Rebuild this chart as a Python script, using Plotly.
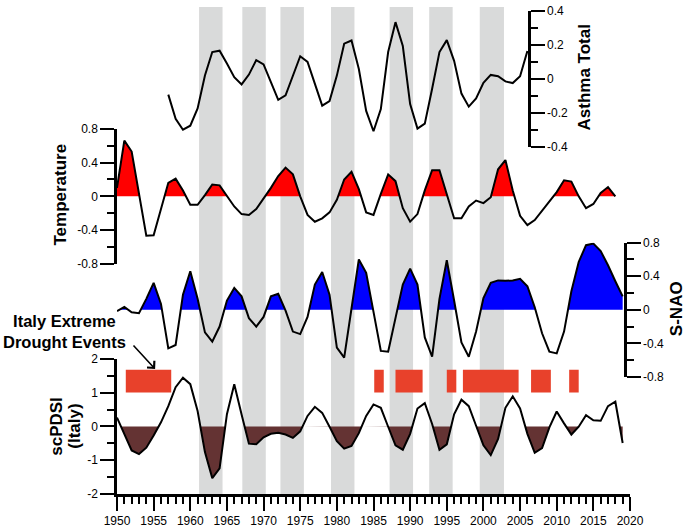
import plotly.graph_objects as go

# ---------------- data ----------------
years_temp = list(range(1950, 2019))
temperature = [0.10, 0.66, 0.53, 0.03, -0.465, -0.46, -0.15, 0.16, 0.21, 0.07,
               -0.10, -0.10, 0.015, 0.14, 0.13, 0.01, -0.12, -0.21, -0.22, -0.15,
               -0.03, 0.10, 0.24, 0.34, 0.26, 0.00, -0.22, -0.30, -0.26, -0.19,
               -0.04, 0.20, 0.29, 0.085, -0.19, -0.22, 0.03, 0.26, 0.18, -0.14,
               -0.30, -0.21, 0.07, 0.31, 0.31, 0.03, -0.26, -0.26, -0.12, -0.05,
               -0.08, -0.01, 0.32, 0.43, 0.07, -0.23, -0.34, -0.28, -0.17, -0.06,
               0.05, 0.19, 0.175, 0.00, -0.14, -0.09, 0.04, 0.11, 0.00]

years_nao = list(range(1950, 2020))
snao = [-0.015, 0.035, -0.03, -0.04, 0.13, 0.32, 0.07, -0.46, -0.42, 0.18,
        0.46, 0.13, -0.27, -0.38, -0.20, 0.11, 0.26, 0.16, -0.10, -0.20,
        -0.085, 0.16, 0.19, -0.01, -0.26, -0.29, -0.085, 0.30, 0.45, 0.18,
        -0.45, -0.57, 0.015, 0.60, 0.44, -0.05, -0.49, -0.50, -0.085, 0.30,
        0.49, 0.30, -0.33, -0.56, 0.13, 0.59, 0.11, -0.39, -0.56, -0.26,
        0.14, 0.32, 0.35, 0.345, 0.35, 0.37, 0.28, 0.03, -0.28, -0.50,
        -0.52, -0.26, 0.22, 0.57, 0.77, 0.79, 0.70, 0.53, 0.34, 0.16]

years_pdsi = list(range(1950, 2020))
scpdsi = [0.26, -0.22, -0.71, -0.82, -0.63, -0.27, 0.12, 0.60, 1.16, 1.44,
          1.25, 0.455, -0.76, -1.53, -1.24, 0.36, 1.25, 0.35, -0.51, -0.53,
          -0.32, -0.22, -0.19, -0.24, -0.34, -0.145, 0.31, 0.58, 0.40, -0.01,
          -0.44, -0.66, -0.58, -0.20, 0.31, 0.65, 0.55, -0.01, -0.56, -0.69,
          -0.22, 0.53, 0.69, 0.07, -0.69, -0.53, 0.36, 0.79, 0.60, 0.02,
          -0.56, -0.85, -0.37, 0.55, 0.89, 0.53, -0.22, -0.78, -0.64, -0.03,
          0.44, 0.09, -0.24, -0.01, 0.33, 0.18, 0.165, 0.60, 0.73, -0.49]

years_asthma = list(range(1957, 2007))
asthma = [-0.093, -0.235, -0.30, -0.276, -0.174, 0.02, 0.158, 0.166, 0.09, 0.01,
          -0.033, 0.025, 0.11, 0.085, -0.02, -0.124, -0.097, 0.023, 0.133, 0.10,
          -0.029, -0.158, -0.131, 0.019, 0.207, 0.226, 0.058, -0.189, -0.309, -0.178,
          0.158, 0.334, 0.193, -0.149, -0.293, -0.264, -0.058, 0.158, 0.228, 0.106,
          -0.087, -0.164, -0.116, -0.023, 0.023, 0.015, -0.015, -0.025, 0.015, 0.164]

band_start = [1961.2, 1967.1, 1972.3, 1979.2, 1987.2, 1992.6, 1999.5]
band_end = [1964.4, 1970.3, 1975.5, 1982.4, 1990.4, 1995.8, 2002.8]

drought_start = [1951.2, 1985.1, 1988.0, 1995.0, 1997.2, 2006.5, 2011.7]
drought_end = [1957.4, 1986.4, 1991.7, 1996.3, 2004.8, 2009.2, 2013.0]
drought_low = 1.0
drought_high = 1.68

temp_ticks = [-0.8, -0.4, 0, 0.4, 0.8]
temp_minor = [-0.6, -0.2, 0.2, 0.6]
asthma_ticks = [-0.4, -0.2, 0, 0.2, 0.4]
asthma_minor = [-0.3, -0.1, 0.1, 0.3]
nao_ticks = [-0.8, -0.4, 0, 0.4, 0.8]
nao_minor = [-0.6, -0.2, 0.2, 0.6]
pdsi_ticks = [-2, -1, 0, 1, 2]
pdsi_minor = [-1.5, -0.5, 0.5, 1.5]


def label(v):
    return '%g' % v


def clipped(xs, ys, positive=True):
    ox, oy = [], []
    for i in range(len(xs)):
        if i > 0:
            a, b = ys[i - 1], ys[i]
            if (a > 0 > b) or (a < 0 < b):
                t = a / (a - b)
                ox.append(xs[i - 1] + t * (xs[i] - xs[i - 1]))
                oy.append(0.0)
        ox.append(xs[i])
        oy.append(max(ys[i], 0) if positive else min(ys[i], 0))
    return ox, oy


FONT = "Arial, Liberation Sans, sans-serif"
fig = go.Figure()

# fills
tx, ty = clipped(years_temp, temperature, True)
fig.add_trace(go.Scatter(x=tx, y=ty, yaxis='y3', mode='lines', fill='tozeroy',
                         fillcolor='#FF0000', line=dict(width=0), hoverinfo='skip'))
nx, ny = clipped(years_nao, snao, True)
fig.add_trace(go.Scatter(x=nx, y=ny, yaxis='y4', mode='lines', fill='tozeroy',
                         fillcolor='#0000FF', line=dict(width=0), hoverinfo='skip'))
px_, py_ = clipped(years_pdsi, scpdsi, False)
fig.add_trace(go.Scatter(x=px_, y=py_, yaxis='y', mode='lines', fill='tozeroy',
                         fillcolor='#643333', line=dict(width=0), hoverinfo='skip'))

# lines
fig.add_trace(go.Scatter(x=years_temp, y=temperature, yaxis='y3', mode='lines',
                         line=dict(color='black', width=2)))
fig.add_trace(go.Scatter(x=years_nao, y=snao, yaxis='y4', mode='lines',
                         line=dict(color='black', width=2)))
fig.add_trace(go.Scatter(x=years_pdsi, y=scpdsi, yaxis='y', mode='lines',
                         line=dict(color='black', width=2)))
fig.add_trace(go.Scatter(x=years_asthma, y=asthma, yaxis='y2', mode='lines',
                         line=dict(color='black', width=2)))

shapes = []
for s, e in zip(band_start, band_end):
    shapes.append(dict(type='rect', xref='x', yref='paper', x0=s, x1=e, y0=0, y1=1,
                       fillcolor='#D9DADA', line=dict(width=0), layer='below'))
for s, e in zip(drought_start, drought_end):
    shapes.append(dict(type='rect', xref='x', yref='y', x0=s, x1=e,
                       y0=drought_low, y1=drought_high,
                       fillcolor='#E8412B', line=dict(width=0), layer='below'))


def yax(domain, rng, ticks, minor, side, anchor='x', position=None):
    d = dict(domain=domain, range=rng, tickmode='array', tickvals=ticks,
             ticktext=[label(v) for v in ticks], ticks='outside', ticklen=14,
             tickwidth=2, tickcolor='black', showline=True, linewidth=2.5,
             linecolor='black', showgrid=False, zeroline=False, side=side,
             anchor=anchor, tickfont=dict(family=FONT, size=12, color='black'),
             minor=dict(tickmode='array', tickvals=minor, ticks='outside',
                        ticklen=7, tickwidth=2, tickcolor='black', showgrid=False),
             fixedrange=True)
    if position is not None:
        d['position'] = position
    return d


ann_font = dict(family=FONT, size=17, color='black', weight='bold')
small_font = dict(family=FONT, size=16.5, color='black', weight='bold')
annotations = [
    dict(text='Temperature', xref='paper', yref='paper', x=-0.111, y=0.615,
         textangle=-90, showarrow=False, font=ann_font, xanchor='center', yanchor='middle'),
    dict(text='Asthma Total', xref='paper', yref='paper', x=0.912, y=0.855,
         textangle=-90, showarrow=False, font=ann_font, xanchor='center', yanchor='middle'),
    dict(text='S-NAO', xref='paper', yref='paper', x=1.092, y=0.38,
         textangle=-90, showarrow=False, font=ann_font, xanchor='center', yanchor='middle'),
    dict(text='scPDSI', xref='paper', yref='paper', x=-0.118, y=0.139,
         textangle=-90, showarrow=False, font=ann_font, xanchor='center', yanchor='middle'),
    dict(text='(Italy)', xref='paper', yref='paper', x=-0.083, y=0.139,
         textangle=-90, showarrow=False, font=ann_font, xanchor='center', yanchor='middle'),
    dict(text='Italy Extreme<br>Drought Events', xref='paper', yref='paper',
         x=-0.103, y=0.333, align='center', borderpad=0,
         showarrow=False, font=small_font, xanchor='center', yanchor='middle'),
    dict(text='', x=1955.2, y=1.70, xref='x', yref='y', showarrow=True,
         ax=-23, ay=-25, arrowhead=4, arrowsize=1.2, arrowwidth=1.6,
         arrowcolor='black', standoff=0),
]

fig.update_layout(
    width=685, height=528,
    margin=dict(l=117, r=55, t=0, b=32),
    paper_bgcolor='white', plot_bgcolor='rgba(0,0,0,0)',
    showlegend=False,
    font=dict(family=FONT, color='black'),
    xaxis=dict(domain=[0, 1], range=[1950, 2020], anchor='y', tickmode='linear',
               tick0=1950, dtick=5, ticks='outside', ticklen=14, tickwidth=2,
               tickcolor='black', showline=True, linewidth=2.5, linecolor='black',
               showgrid=False, zeroline=False,
               tickfont=dict(family=FONT, size=12, color='black'),
               minor=dict(tick0=1950, dtick=1, ticks='outside', ticklen=7,
                          tickwidth=2, tickcolor='black', showgrid=False),
               fixedrange=True),
    yaxis=yax([0, 0.2776], [-2, 2], pdsi_ticks, pdsi_minor, 'left'),
    yaxis2=yax([0.7131, 0.9919], [-0.4, 0.4], asthma_ticks, asthma_minor, 'right',
               anchor='free', position=0.803),
    yaxis3=yax([0.4724, 0.75], [-0.8, 0.8], temp_ticks, temp_minor, 'left'),
    yaxis4=yax([0.2405, 0.5161], [-0.8, 0.8], nao_ticks, nao_minor, 'right',
               anchor='free', position=0.990),
    shapes=shapes,
    annotations=annotations,
)

fig.write_html(
    "out.html",
    config={'displayModeBar': False},
    post_script="document.body.style.margin='0';document.body.style.overflow='hidden';",
)
